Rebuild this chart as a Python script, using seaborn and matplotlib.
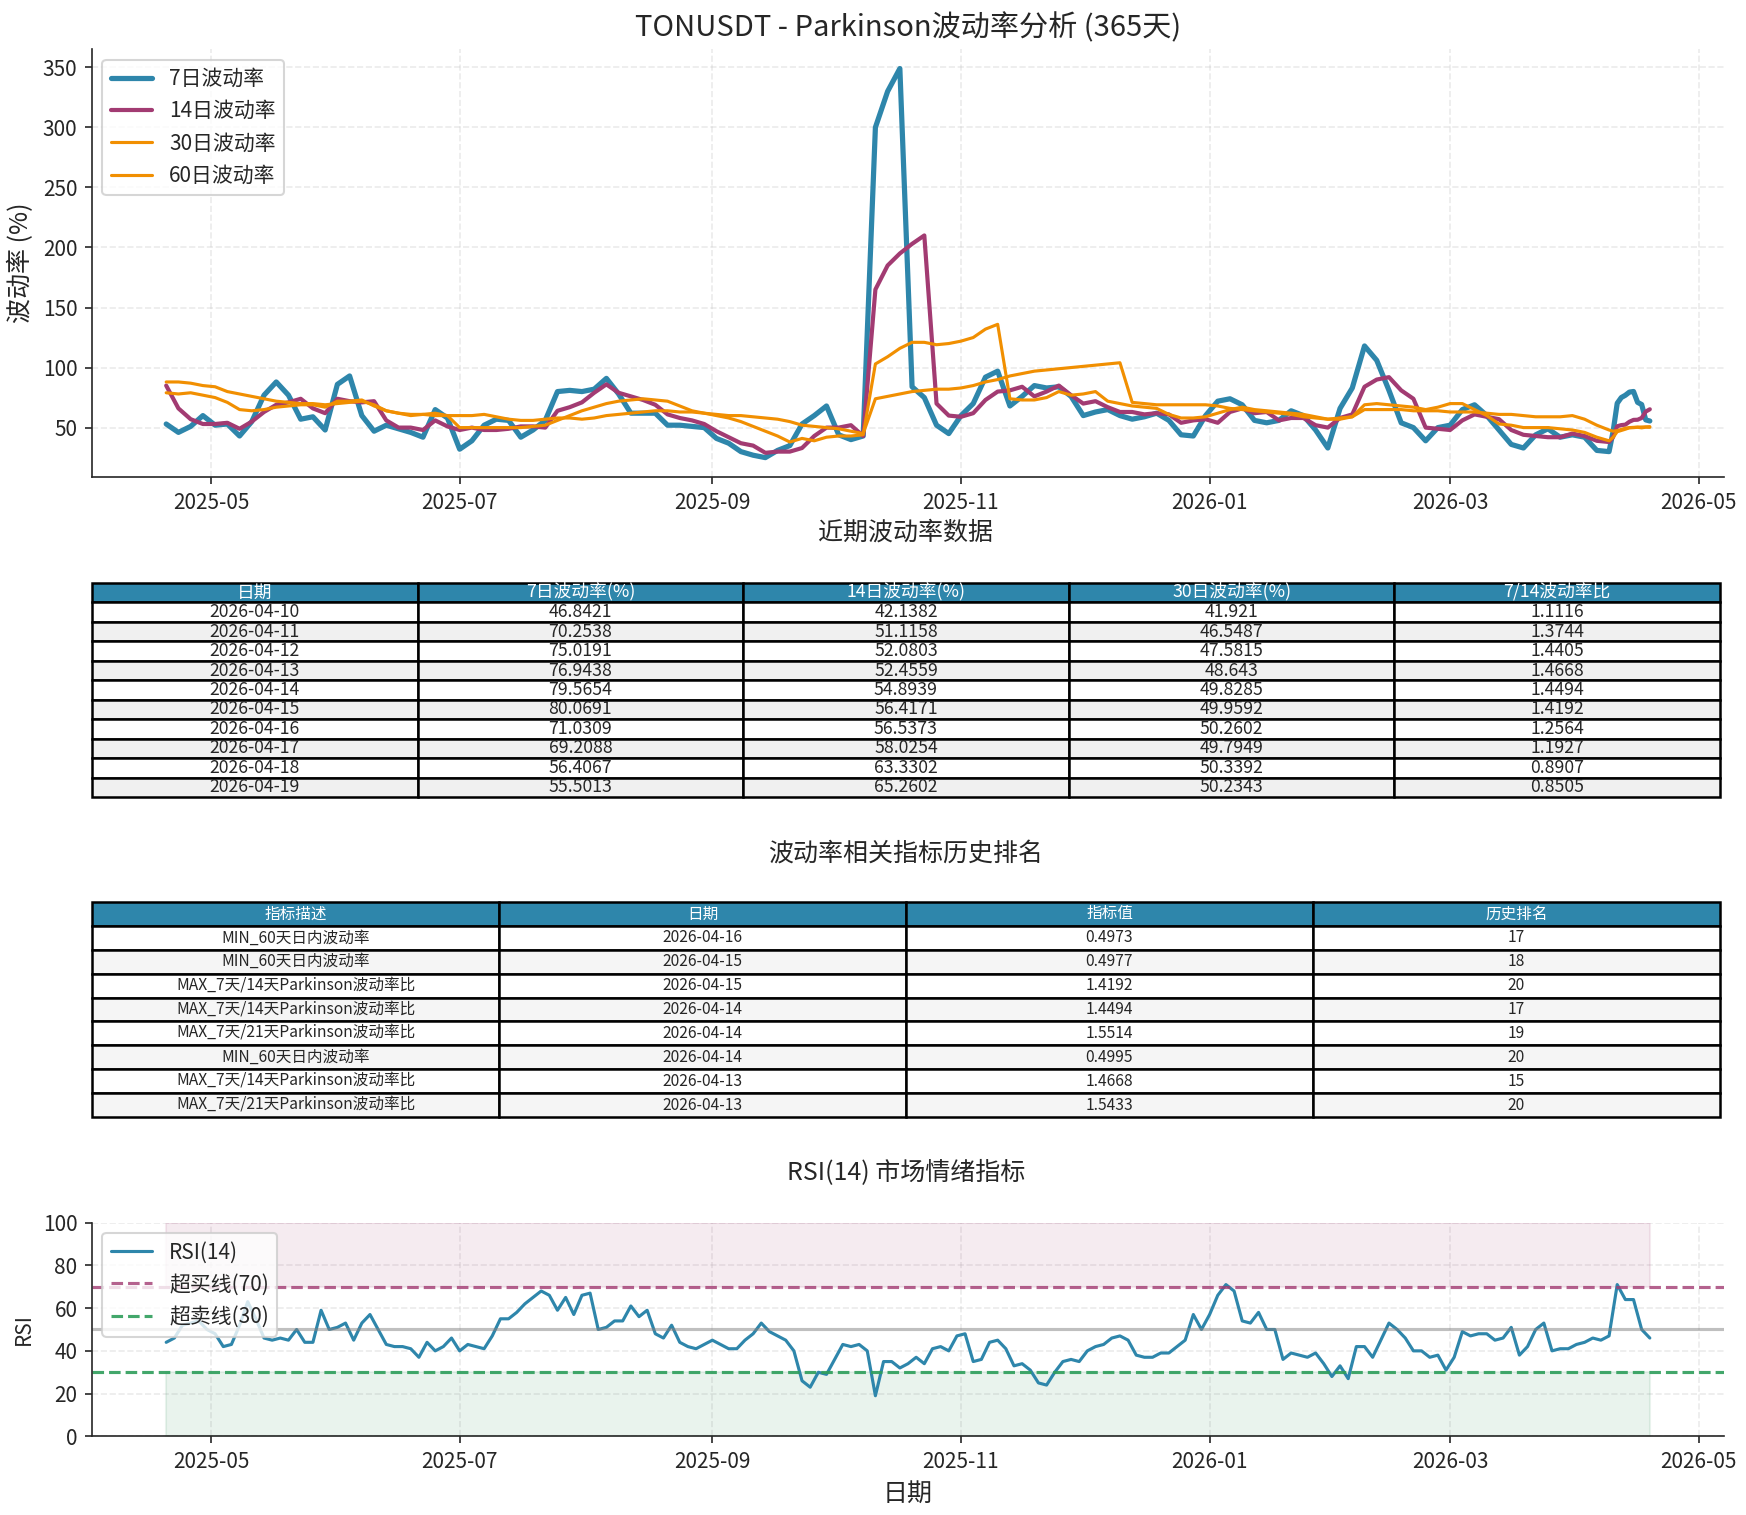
import matplotlib
matplotlib.use('Agg')
import matplotlib.pyplot as plt
import matplotlib.dates as mdates
import pandas as pd
import seaborn as sns

# ---- data (3-day steps up to 2026-04-09, then daily from the table) ----
hist_dates = pd.date_range('2025-04-20', '2026-04-09', freq='3D')
table_dates = ['2026-04-10', '2026-04-11', '2026-04-12', '2026-04-13', '2026-04-14',
               '2026-04-15', '2026-04-16', '2026-04-17', '2026-04-18', '2026-04-19']

vol7_hist = [53, 46, 51, 60, 52, 53, 43, 55, 77, 88,
             77, 57, 59, 48, 86, 93, 60, 47, 52, 49,
             46, 42, 65, 58, 32, 39, 52, 57, 56, 42,
             48, 56, 80, 81, 80, 82, 91, 78, 62, 62,
             62, 52, 52, 51, 50, 41, 37, 30, 27, 25,
             31, 35, 53, 60, 68, 44, 40, 43, 300, 330,
             349, 84, 75, 52, 45, 60, 70, 92, 97, 68,
             76, 85, 83, 84, 76, 60, 63, 65, 60, 57,
             59, 62, 56, 44, 43, 60, 72, 74, 69, 56,
             54, 56, 64, 60, 48, 33, 66, 83, 118, 106,
             81, 54, 50, 39, 50, 52, 65, 69, 60, 48,
             36, 33, 44, 49, 42, 44, 42, 31, 30]
vol14_hist = [85, 66, 57, 53, 53, 54, 49, 55, 63, 69,
              71, 74, 66, 62, 74, 72, 71, 72, 56, 50,
              50, 48, 56, 51, 48, 50, 48, 48, 49, 51,
              51, 50, 64, 67, 71, 79, 86, 79, 76, 73,
              69, 61, 58, 56, 53, 47, 42, 37, 35, 29,
              30, 30, 33, 43, 50, 50, 52, 43, 165, 185,
              195, 203, 210, 70, 60, 59, 62, 73, 80, 81,
              84, 76, 80, 85, 77, 70, 72, 67, 63, 63,
              61, 62, 61, 54, 56, 57, 54, 63, 66, 62,
              63, 56, 58, 58, 52, 50, 58, 61, 84, 90,
              92, 81, 74, 50, 49, 48, 56, 61, 59, 57,
              48, 44, 43, 42, 42, 45, 43, 39, 38]
vol30_hist = [79, 78, 79, 77, 75, 71, 65, 64, 65, 67,
              68, 69, 69, 67, 72, 72, 73, 68, 64, 62,
              60, 61, 62, 60, 50, 50, 50, 50, 50, 50,
              51, 52, 56, 60, 64, 67, 70, 72, 73, 74,
              73, 72, 68, 64, 62, 60, 58, 55, 51, 47,
              43, 38, 41, 39, 42, 43, 43, 44, 103, 109,
              116, 121, 121, 119, 120, 122, 125, 132, 136, 74,
              73, 73, 75, 80, 77, 78, 80, 72, 70, 68,
              67, 66, 61, 58, 58, 59, 62, 65, 67, 65,
              64, 63, 62, 61, 59, 57, 58, 59, 69, 70,
              69, 68, 67, 65, 67, 70, 70, 65, 60, 53,
              52, 50, 50, 50, 49, 48, 46, 42, 39]
vol60_hist = [88, 88, 87, 85, 84, 80, 78, 76, 74, 72,
              71, 70, 70, 69, 70, 71, 72, 69, 64, 62,
              61, 61, 60, 60, 60, 60, 61, 59, 57, 56,
              56, 57, 58, 58, 57, 58, 60, 61, 62, 63,
              64, 64, 63, 63, 62, 61, 60, 60, 59, 58,
              57, 55, 52, 51, 50, 49, 47, 45, 74, 76,
              78, 80, 81, 82, 82, 83, 85, 88, 90, 93,
              95, 97, 98, 99, 100, 101, 102, 103, 104, 71,
              70, 69, 69, 69, 69, 69, 68, 66, 65, 64,
              63, 62, 61, 59, 58, 57, 57, 59, 65, 65,
              65, 65, 64, 64, 64, 63, 63, 63, 62, 61,
              61, 60, 59, 59, 59, 60, 57, 52, 48]
vol60_recent = [47, 47.5, 48.5, 49.5, 50, 50.2, 50.4, 50.5, 50.6, 50.8]

table_vol7 = [46.8421, 70.2538, 75.0191, 76.9438, 79.5654, 80.0691, 71.0309, 69.2088, 56.4067, 55.5013]
table_vol14 = [42.1382, 51.1158, 52.0803, 52.4559, 54.8939, 56.4171, 56.5373, 58.0254, 63.3302, 65.2602]
table_vol30 = [41.921, 46.5487, 47.5815, 48.643, 49.8285, 49.9592, 50.2602, 49.7949, 50.3392, 50.2343]
table_ratio = [1.1116, 1.3744, 1.4405, 1.4668, 1.4494, 1.4192, 1.2564, 1.1927, 0.8907, 0.8505]

rank_desc = ['MIN_60天日内波动率', 'MIN_60天日内波动率', 'MAX_7天/14天Parkinson波动率比',
             'MAX_7天/14天Parkinson波动率比', 'MAX_7天/21天Parkinson波动率比', 'MIN_60天日内波动率',
             'MAX_7天/14天Parkinson波动率比', 'MAX_7天/21天Parkinson波动率比']
rank_dates = ['2026-04-16', '2026-04-15', '2026-04-15', '2026-04-14',
              '2026-04-14', '2026-04-14', '2026-04-13', '2026-04-13']
rank_values = [0.4973, 0.4977, 1.4192, 1.4494, 1.5514, 0.4995, 1.4668, 1.5433]
rank_pos = [17, 18, 20, 17, 19, 20, 15, 20]

# RSI(14), read every 2 days
rsi_dates = pd.date_range('2025-04-20', '2026-04-19', freq='2D')
rsi_values = [44, 46, 52, 53, 54, 50, 48, 42, 43, 52,
              63, 55, 46, 45, 46, 45, 50, 44, 44, 59,
              50, 51, 53, 45, 53, 57, 50, 43, 42, 42,
              41, 37, 44, 40, 42, 46, 40, 43, 42, 41,
              47, 55, 55, 58, 62, 65, 68, 66, 59, 65,
              57, 66, 67, 50, 51, 54, 54, 61, 56, 59,
              48, 46, 52, 44, 42, 41, 43, 45, 43, 41,
              41, 45, 48, 53, 49, 47, 45, 40, 26, 23,
              30, 29, 36, 43, 42, 43, 40, 19, 35, 35,
              32, 34, 37, 34, 41, 42, 40, 47, 48, 35,
              36, 44, 45, 41, 33, 34, 31, 25, 24, 30,
              35, 36, 35, 40, 42, 43, 46, 47, 45, 38,
              37, 37, 39, 39, 42, 45, 57, 50, 57, 66,
              71, 68, 54, 53, 58, 50, 50, 36, 39, 38,
              37, 39, 34, 28, 33, 27, 42, 42, 37, 45,
              53, 50, 46, 40, 40, 37, 38, 31, 37, 49,
              47, 48, 48, 45, 46, 51, 38, 42, 50, 53,
              40, 41, 41, 43, 44, 46, 45, 47, 71, 64,
              64, 50, 46]

# ---- assemble series ----
dates = list(hist_dates) + list(pd.to_datetime(table_dates))
vol = pd.DataFrame({
    'date': dates,
    '7日波动率': vol7_hist + table_vol7,
    '14日波动率': vol14_hist + table_vol14,
    '30日波动率': vol30_hist + table_vol30,
    '60日波动率': vol60_hist + vol60_recent,
})
rsi = pd.DataFrame({'date': rsi_dates, 'rsi': rsi_values})

sns.set_style('ticks')
plt.rcParams['font.family'] = ['Noto Sans CJK SC', 'DejaVu Sans']
plt.rcParams['axes.unicode_minus'] = False

fig = plt.figure(figsize=(11.64, 10.1), dpi=150)

# ---- volatility lines ----
ax1 = fig.add_axes([0.0527, 0.6851, 0.9347, 0.2825])
styles = {'7日波动率': ('#2E86AB', 2.5), '14日波动率': ('#A23B72', 2.0),
          '30日波动率': ('#F18F01', 1.5), '60日波动率': ('#F18F01', 1.5)}
for name, (color, lw) in styles.items():
    sns.lineplot(data=vol, x='date', y=name, ax=ax1, color=color, linewidth=lw, label=name)
ax1.set_title('TONUSDT - Parkinson波动率分析 (365天)', fontsize=14)
ax1.set_ylabel('波动率 (%)', fontsize=12)
ax1.set_xlabel('')
ax1.grid(True, linestyle='--', alpha=0.4)
ax1.legend(loc='upper left', fontsize=10, frameon=True)
ax1.tick_params(labelsize=10)
ax1.xaxis.set_major_locator(mdates.MonthLocator(bymonth=[1, 3, 5, 7, 9, 11]))
ax1.xaxis.set_major_formatter(mdates.DateFormatter('%Y-%m'))
sns.despine(ax=ax1)


def draw_table(rect, header, rows, stripe, fontsize):
    ax = fig.add_axes(rect)
    ax.axis('off')
    tbl = ax.table(cellText=rows, colLabels=header, cellLoc='center', loc='center',
                   bbox=[0, 0, 1, 1])
    tbl.auto_set_font_size(False)
    tbl.set_fontsize(fontsize)
    for (r, c), cell in tbl.get_celld().items():
        cell.set_edgecolor('black')
        cell.set_linewidth(1.2)
        if r == 0:
            cell.set_facecolor('#2E86AB')
            cell.get_text().set_color('white')
        else:
            cell.set_facecolor('white' if r % 2 == 1 else stripe)
    return ax


# ---- recent table ----
rows1 = [[d, str(a), str(b), str(c), str(r)] for d, a, b, c, r in
         zip(table_dates, table_vol7, table_vol14, table_vol30, table_ratio)]
fig.text(0.5187, 1 - 533 / 1515, '近期波动率数据', ha='center', va='center', fontsize=12)
draw_table([0.0527, 0.4739, 0.9324, 0.1413],
           ['日期', '7日波动率(%)', '14日波动率(%)', '30日波动率(%)', '7/14波动率比'],
           rows1, '#F0F0F0', 8.5)

# ---- ranking table ----
rows2 = [[a, b, str(v), str(p)] for a, b, v, p in zip(rank_desc, rank_dates, rank_values, rank_pos)]
fig.text(0.5187, 1 - 854 / 1515, '波动率相关指标历史排名', ha='center', va='center', fontsize=12)
draw_table([0.0527, 0.2627, 0.9324, 0.1419], ['指标描述', '日期', '指标值', '历史排名'],
           rows2, '#F5F5F5', 7.5)

# ---- RSI ----
fig.text(0.5187, 1 - 1172 / 1515, 'RSI(14) 市场情绪指标', ha='center', va='center', fontsize=12)
ax3 = fig.add_axes([0.0527, 0.0519, 0.9347, 0.1411])
ax3.fill_between(rsi['date'], 70, 100, color='#A23B72', alpha=0.1)
ax3.fill_between(rsi['date'], 0, 30, color='#2E8B57', alpha=0.1)
sns.lineplot(data=rsi, x='date', y='rsi', ax=ax3, color='#2E86AB', linewidth=1.5, label='RSI(14)')
ax3.axhline(70, color='#A23B72', linestyle='--', linewidth=1.5, alpha=0.8, label='超买线(70)')
ax3.axhline(30, color='#2E9E5B', linestyle='--', linewidth=1.5, alpha=0.9, label='超卖线(30)')
ax3.axhline(50, color='gray', linewidth=1.5, alpha=0.5)
ax3.set_ylim(0, 100)
ax3.set_xlim(ax1.get_xlim())
ax3.set_ylabel('RSI', fontsize=10)
ax3.set_xlabel('日期', fontsize=12)
ax3.grid(True, linestyle='--', alpha=0.4)
ax3.legend(loc='upper left', fontsize=10, framealpha=0.8)
ax3.tick_params(labelsize=10)
ax3.xaxis.set_major_locator(mdates.MonthLocator(bymonth=[1, 3, 5, 7, 9, 11]))
ax3.xaxis.set_major_formatter(mdates.DateFormatter('%Y-%m'))
sns.despine(ax=ax3)

fig.savefig('out.png', dpi=150)
